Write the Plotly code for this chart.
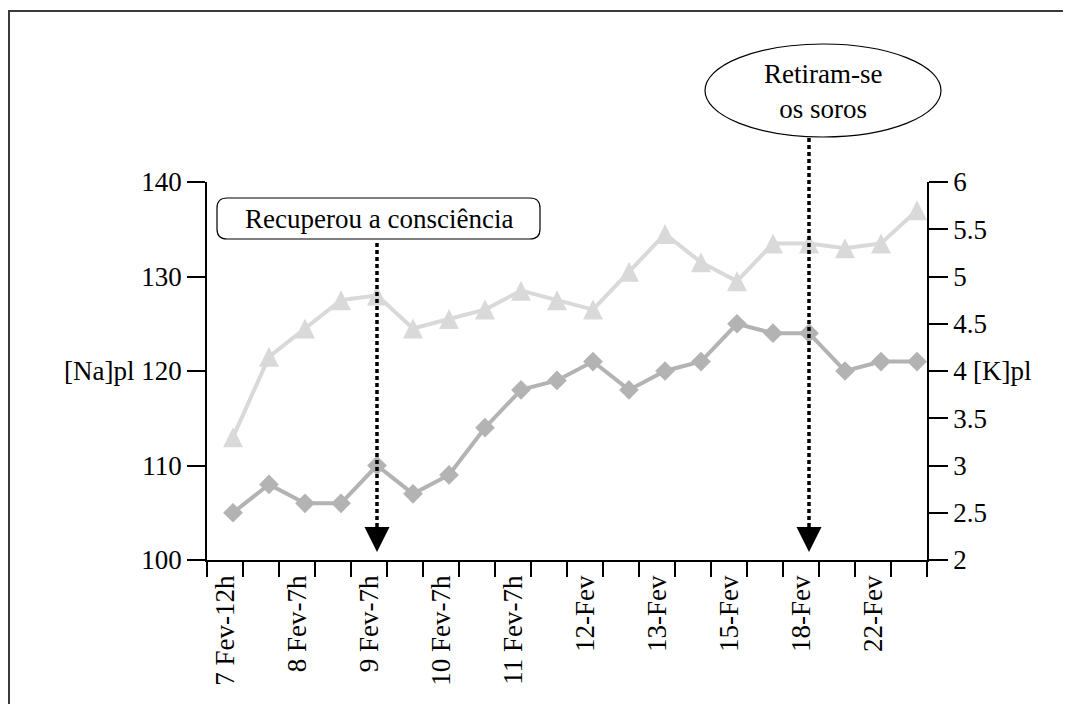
import plotly.graph_objects as go

# ---------------- data ----------------
point_index = list(range(20))
tick_labels = ["7 Fev-12h", "8 Fev-7h", "9 Fev-7h", "10 Fev-7h", "11 Fev-7h",
               "12-Fev", "13-Fev", "15-Fev", "18-Fev", "22-Fev"]
na_values = [105, 108, 106, 106, 110, 107, 109, 114, 118, 119,
             121, 118, 120, 121, 125, 124, 124, 120, 121, 121]
k_values = [3.3, 4.15, 4.45, 4.75, 4.8, 4.45, 4.55, 4.65, 4.85, 4.75,
            4.65, 5.05, 5.45, 5.15, 4.95, 5.35, 5.35, 5.3, 5.35, 5.7]
event_index = [4, 16]
event_text = ["Recuperou a consciência", "Retiram-se<br>os soros"]

# ---------------- layout geometry (page pixels, body margin 8) ----------------
OFF = 8
W, H = 1071 - OFF, 704 - OFF
PLOT_L, PLOT_R, PLOT_T, PLOT_B = 207, 927, 182, 560   # page pixels
ML, MT = PLOT_L - OFF, PLOT_T - OFF
MR, MB = W - (PLOT_R - OFF), H - (PLOT_B - OFF)
PW, PH = PLOT_R - PLOT_L, PLOT_B - PLOT_T
FONT = "Liberation Serif"
FS = 27


def px_x(p):
    return (p - PLOT_L) / PW


def px_y(p):
    return (PLOT_B - p) / PH


x_left = -0.722
x_range = [x_left, x_left + 20]
label_pos = [2 * j - 0.222 for j in range(len(tick_labels))]

NA_COLOR = "#b3b3b3"
K_COLOR = "#d9d9d9"

fig = go.Figure()
fig.add_trace(go.Scatter(
    x=point_index, y=k_values, yaxis="y2", mode="lines+markers",
    line=dict(color=K_COLOR, width=4),
    marker=dict(symbol="arrow-down", angle=180, standoff=10, size=20,
                color=K_COLOR),
    name="[K]pl", showlegend=False))
fig.add_trace(go.Scatter(
    x=point_index, y=na_values, mode="lines+markers",
    line=dict(color=NA_COLOR, width=4),
    marker=dict(symbol="diamond", size=13, color=NA_COLOR,
                line=dict(color=NA_COLOR, width=2)),
    name="[Na]pl", showlegend=False))

fig.update_layout(
    width=W, height=H,
    margin=dict(l=ML, r=MR, t=MT, b=MB, pad=0),
    paper_bgcolor="white", plot_bgcolor="white",
    font=dict(family=FONT, size=FS, color="black"),
    xaxis=dict(
        range=x_range, showgrid=False, zeroline=False,
        showline=True, linecolor="black", linewidth=1.5,
        tickmode="array", tickvals=label_pos, ticktext=tick_labels,
        tickangle=-90, ticks="outside", ticklen=3,
        tickcolor="rgba(0,0,0,0)",
        tickfont=dict(family=FONT, size=FS, color="black"),
        minor=dict(tickmode="linear", tick0=x_left, dtick=1,
                   ticks="outside", ticklen=15, tickwidth=1.5,
                   tickcolor="black", showgrid=False),
    ),
    yaxis=dict(
        range=[100, 140], dtick=10, showgrid=False, zeroline=False,
        showline=True, linecolor="black", linewidth=1.5,
        ticks="outside", ticklen=18, tickwidth=1.5, tickcolor="black",
        tickfont=dict(family=FONT, size=FS, color="black"),
    ),
    yaxis2=dict(
        range=[2, 6], dtick=0.5, overlaying="y", side="right",
        showgrid=False, zeroline=False,
        showline=True, linecolor="black", linewidth=1.5,
        ticks="outside", ticklen=19, tickwidth=1.5, tickcolor="black",
        tickfont=dict(family=FONT, size=FS, color="black"),
    ),
)

shapes = []
# outer frame
shapes.append(dict(type="rect", xref="paper", yref="paper",
                   x0=px_x(9), x1=px_x(1070), y0=px_y(720), y1=px_y(11),
                   line=dict(color="#3a3a3a", width=2), layer="below"))
# rounded box
bx0, bx1, by0, by1 = px_x(217), px_x(540), px_y(239), px_y(198)
rx, ry = 10 / PW, 10 / PH
path = (f"M {bx0+rx},{by1} L {bx1-rx},{by1} Q {bx1},{by1} {bx1},{by1-ry} "
        f"L {bx1},{by0+ry} Q {bx1},{by0} {bx1-rx},{by0} "
        f"L {bx0+rx},{by0} Q {bx0},{by0} {bx0},{by0+ry} "
        f"L {bx0},{by1-ry} Q {bx0},{by1} {bx0+rx},{by1} Z")
shapes.append(dict(type="path", xref="paper", yref="paper", path=path,
                   fillcolor="white", line=dict(color="black", width=1.2)))
# ellipse
shapes.append(dict(type="circle", xref="paper", yref="paper",
                   x0=px_x(705), x1=px_x(941), y0=px_y(137), y1=px_y(44),
                   fillcolor="white", line=dict(color="black", width=1.2)))
# dotted event lines
tip_y = px_y(552)
head = 18 / PH
for xi, top in zip(event_index, [px_y(240), px_y(137)]):
    shapes.append(dict(type="line", xref="x", yref="paper",
                       x0=xi, x1=xi, y0=tip_y + head, y1=top,
                       line=dict(color="black", width=3.5, dash="4px,3px")))
fig.update_layout(shapes=shapes)

ann = []
ann.append(dict(xref="paper", yref="paper", x=px_x(378.5), y=px_y(218.5),
                text=event_text[0], showarrow=False,
                xanchor="center", yanchor="middle"))
ann.append(dict(xref="paper", yref="paper", x=px_x(823), y=px_y(92),
                text=event_text[1], showarrow=False,
                xanchor="center", yanchor="middle"))
for xi in event_index:
    ann.append(dict(xref="x", yref="paper", x=xi, y=tip_y, text="",
                    showarrow=True, arrowhead=2, arrowsize=2.5,
                    arrowwidth=2, arrowcolor="black", ax=0, ay=-28))
ann.append(dict(xref="paper", yref="y", x=px_x(136), y=120, text="[Na]pl",
                showarrow=False, xanchor="right", yanchor="middle"))
ann.append(dict(xref="paper", yref="y2", x=px_x(971), y=4, text="[K]pl",
                showarrow=False, xanchor="left", yanchor="middle"))
fig.update_layout(annotations=ann)

fig.write_html("out.html")
